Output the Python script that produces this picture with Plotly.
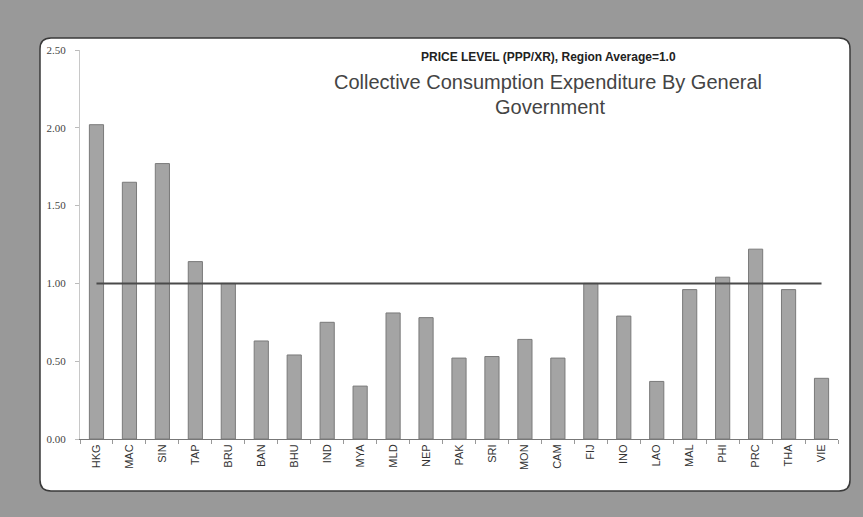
import plotly.graph_objects as go

# ---- data ----
economies = ["HKG", "MAC", "SIN", "TAP", "BRU", "BAN", "BHU", "IND", "MYA", "MLD",
             "NEP", "PAK", "SRI", "MON", "CAM", "FIJ", "INO", "LAO", "MAL", "PHI",
             "PRC", "THA", "VIE"]
price_level = [2.02, 1.65, 1.77, 1.14, 1.00, 0.63, 0.54, 0.75, 0.34, 0.81,
               0.78, 0.52, 0.53, 0.64, 0.52, 1.00, 0.79, 0.37, 0.96, 1.04,
               1.22, 0.96, 0.39]
region_average = [1.0] * len(economies)
y_ticks = [0.0, 0.5, 1.0, 1.5, 2.0, 2.5]
y_tick_labels = ["0.00", "0.50", "1.00", "1.50", "2.00", "2.50"]

W, H = 863, 517
L, R, T, B = 80, 25, 50, 78
PW, PH = W - L - R, H - T - B


def px(x):
    return (x - L) / PW


def py(y):
    return (H - B - y) / PH


def rounded_rect(x0, y0, x1, y1, r):
    pts = [
        f"M {px(x0 + r)},{py(y0)}",
        f"L {px(x1 - r)},{py(y0)}",
        f"Q {px(x1)},{py(y0)} {px(x1)},{py(y0 + r)}",
        f"L {px(x1)},{py(y1 - r)}",
        f"Q {px(x1)},{py(y1)} {px(x1 - r)},{py(y1)}",
        f"L {px(x0 + r)},{py(y1)}",
        f"Q {px(x0)},{py(y1)} {px(x0)},{py(y1 - r)}",
        f"L {px(x0)},{py(y0 + r)}",
        f"Q {px(x0)},{py(y0)} {px(x0 + r)},{py(y0)}",
        "Z",
    ]
    return " ".join(pts)


fig = go.Figure()
fig.add_trace(go.Bar(
    x=economies, y=price_level,
    marker=dict(color="#a4a4a4", line=dict(color="#7a7a7a", width=1)),
    showlegend=False,
))
fig.add_trace(go.Scatter(
    x=economies, y=region_average, mode="lines",
    line=dict(color="#4a4a4a", width=2),
    showlegend=False,
))

fig.add_shape(type="path", xref="paper", yref="paper",
              path=rounded_rect(40, 38, 850, 491, 11),
              fillcolor="white", line=dict(color="#3a3a3a", width=1.5),
              layer="below")

fig.add_annotation(text="<b>PRICE LEVEL (PPP/XR), Region Average=1.0</b>",
                   xref="paper", yref="paper", x=px(548), y=py(57),
                   showarrow=False, xanchor="center", yanchor="middle",
                   font=dict(family="Liberation Sans, Arial", size=12, color="#222"))
fig.add_annotation(text="Collective Consumption Expenditure By General",
                   xref="paper", yref="paper", x=px(548), y=py(82),
                   showarrow=False, xanchor="center", yanchor="middle",
                   font=dict(family="Liberation Sans, Arial", size=20, color="#444"))
fig.add_annotation(text="Government",
                   xref="paper", yref="paper", x=px(550), y=py(107),
                   showarrow=False, xanchor="center", yanchor="middle",
                   font=dict(family="Liberation Sans, Arial", size=20, color="#444"))

fig.update_layout(
    width=W, height=H,
    margin=dict(l=L, r=R, t=T, b=B, autoexpand=False),
    paper_bgcolor="#999999",
    plot_bgcolor="rgba(0,0,0,0)",
    bargap=0.57,
    xaxis=dict(
        type="category", tickangle=-90, showgrid=False,
        showline=True, linecolor="#777", linewidth=1,
        ticks="outside", ticklen=4, tickcolor="#999", tickson="boundaries",
        tickfont=dict(family="Liberation Sans, Arial", size=11, color="#333"),
        range=[-0.5, len(economies) - 0.5],
    ),
    yaxis=dict(
        range=[0, 2.5], tickvals=y_ticks, ticktext=y_tick_labels,
        showgrid=False, zeroline=False,
        showline=True, linecolor="#c8c8c8", linewidth=1,
        ticks="outside", ticklen=4, tickcolor="#bbb", ticklabelstandoff=7,
        tickfont=dict(family="Liberation Serif, Times New Roman", size=11, color="#444"),
    ),
)

fig.write_html(
    "out.html",
    config={"displayModeBar": False},
    post_script="document.body.style.margin='0';document.body.style.background='#999999';",
)
